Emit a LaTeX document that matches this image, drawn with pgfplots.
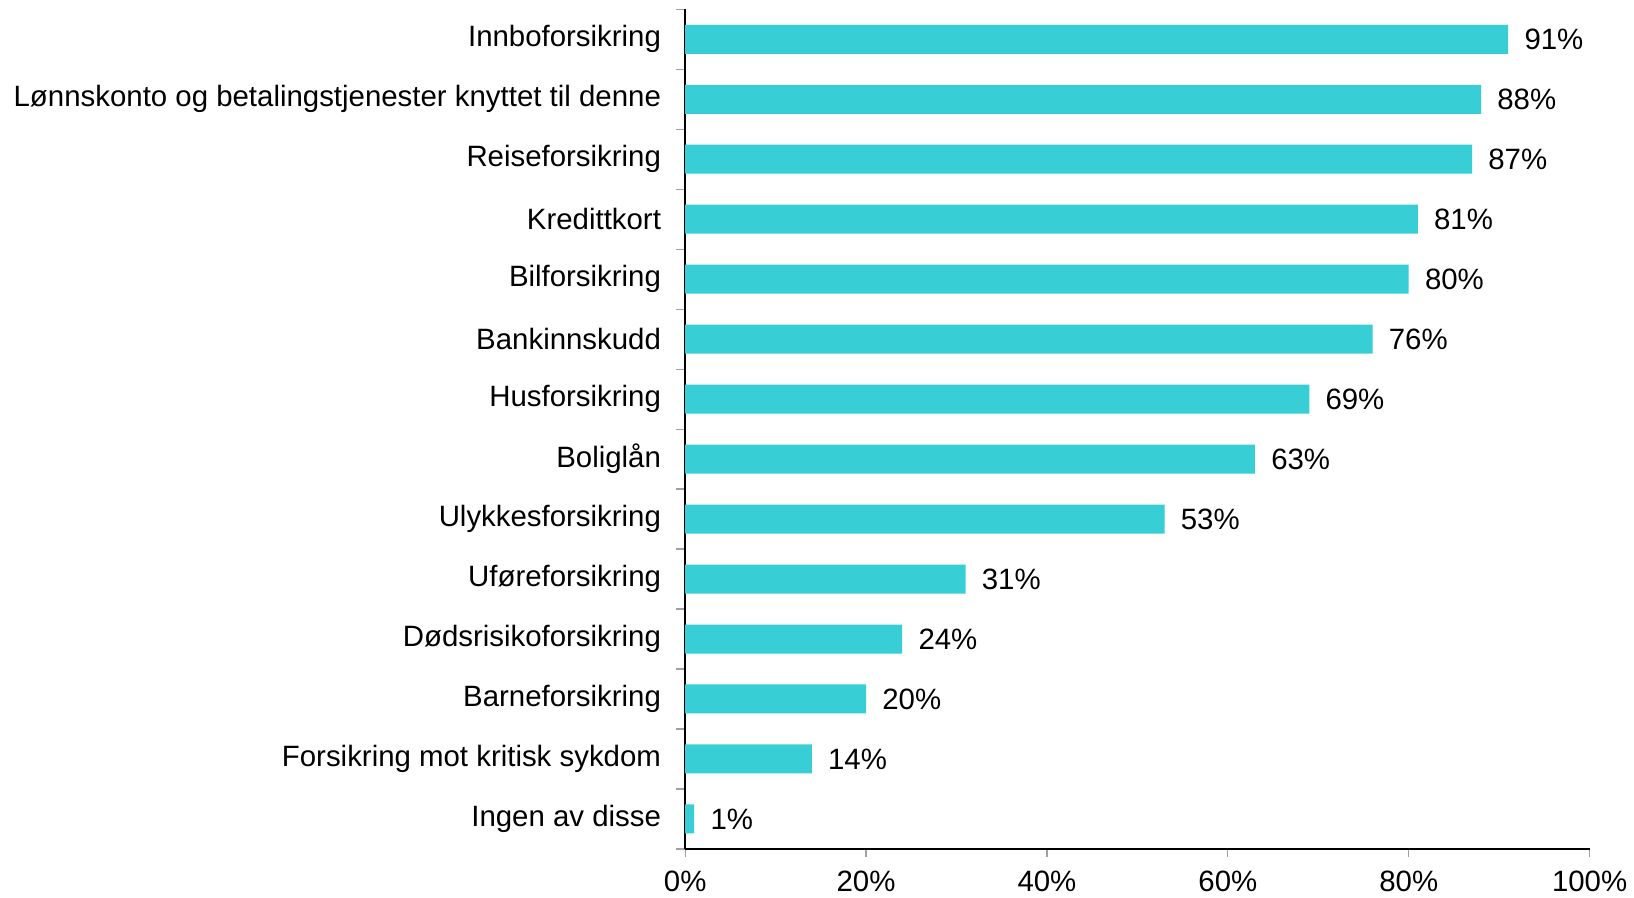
\documentclass[border=0pt]{standalone}
\usepackage{pgfplots}
\pgfplotsset{compat=1.18}
\usepackage{fontspec}
\setmainfont{Liberation Sans}
\definecolor{barc}{HTML}{38CED6}
\definecolor{tickc}{HTML}{A0A0A0}
\begin{document}
\begin{tikzpicture}
\begin{axis}[
  name=ax,
  scale only axis,
  width=446pt, height=414pt,
  xbar, bar shift=0pt, bar width=14.3pt,
  xmin=0, xmax=100, ymin=-0.5, ymax=13.5,
  axis lines*=left,
  axis line style={black, line width=0.8pt},
  xtick={0,20,40,60,80,100},
  xticklabel={\pgfmathprintnumber{\tick}\%},
  /pgf/number format/assume math mode=true,
  ytick={0,...,13},
  yticklabels={Ingen av disse,Forsikring mot kritisk sykdom,Barneforsikring,Dødsrisikoforsikring,Uføreforsikring,Ulykkesforsikring,Boliglån,Husforsikring,Bankinnskudd,Bilforsikring,Kredittkort,Reiseforsikring,Lønnskonto og betalingstjenester knyttet til denne,Innboforsikring},
  minor ytick={-0.5,0.5,...,13.5},
  tick align=outside,
  major tick length=4pt,
  minor tick length=4.5pt,
  every tick/.style={tickc, line width=0.6pt},
  ytick style={draw=none},
  minor y tick style={draw=tickc, line width=0.6pt},
  tick label style={font=\fontsize{14.5}{17}\selectfont, text=black},
  yticklabel style={xshift=-4.4pt},
  xticklabel style={yshift=-3.4pt},
  nodes near coords={\pgfmathprintnumber{\pgfplotspointmeta}\%},
  nodes near coords style={font=\fontsize{14.5}{17}\selectfont, anchor=west, xshift=4.5pt, text=black},
  point meta=explicit,
]
\addplot[fill=barc, draw=none] coordinates {
(1,0) [1]
(14,1) [14]
(20,2) [20]
(24,3) [24]
(31,4) [31]
(53,5) [53]
(63,6) [63]
(69,7) [69]
(76,8) [76]
(80,9) [80]
(81,10) [81]
(87,11) [87]
(88,12) [88]
(91,13) [91]
};
\end{axis}
\coordinate (bbsw) at (current bounding box.south west);
\coordinate (bbne) at (current bounding box.north east);
\coordinate (L) at ([xshift=-3.4pt]bbsw);
\coordinate (B) at ([yshift=-23.8pt]ax.south west);
\coordinate (T) at ([yshift=4.6pt]ax.north east);
\pgfresetboundingbox
\path (L |- B) rectangle (bbne |- T);
\end{tikzpicture}
\end{document}
